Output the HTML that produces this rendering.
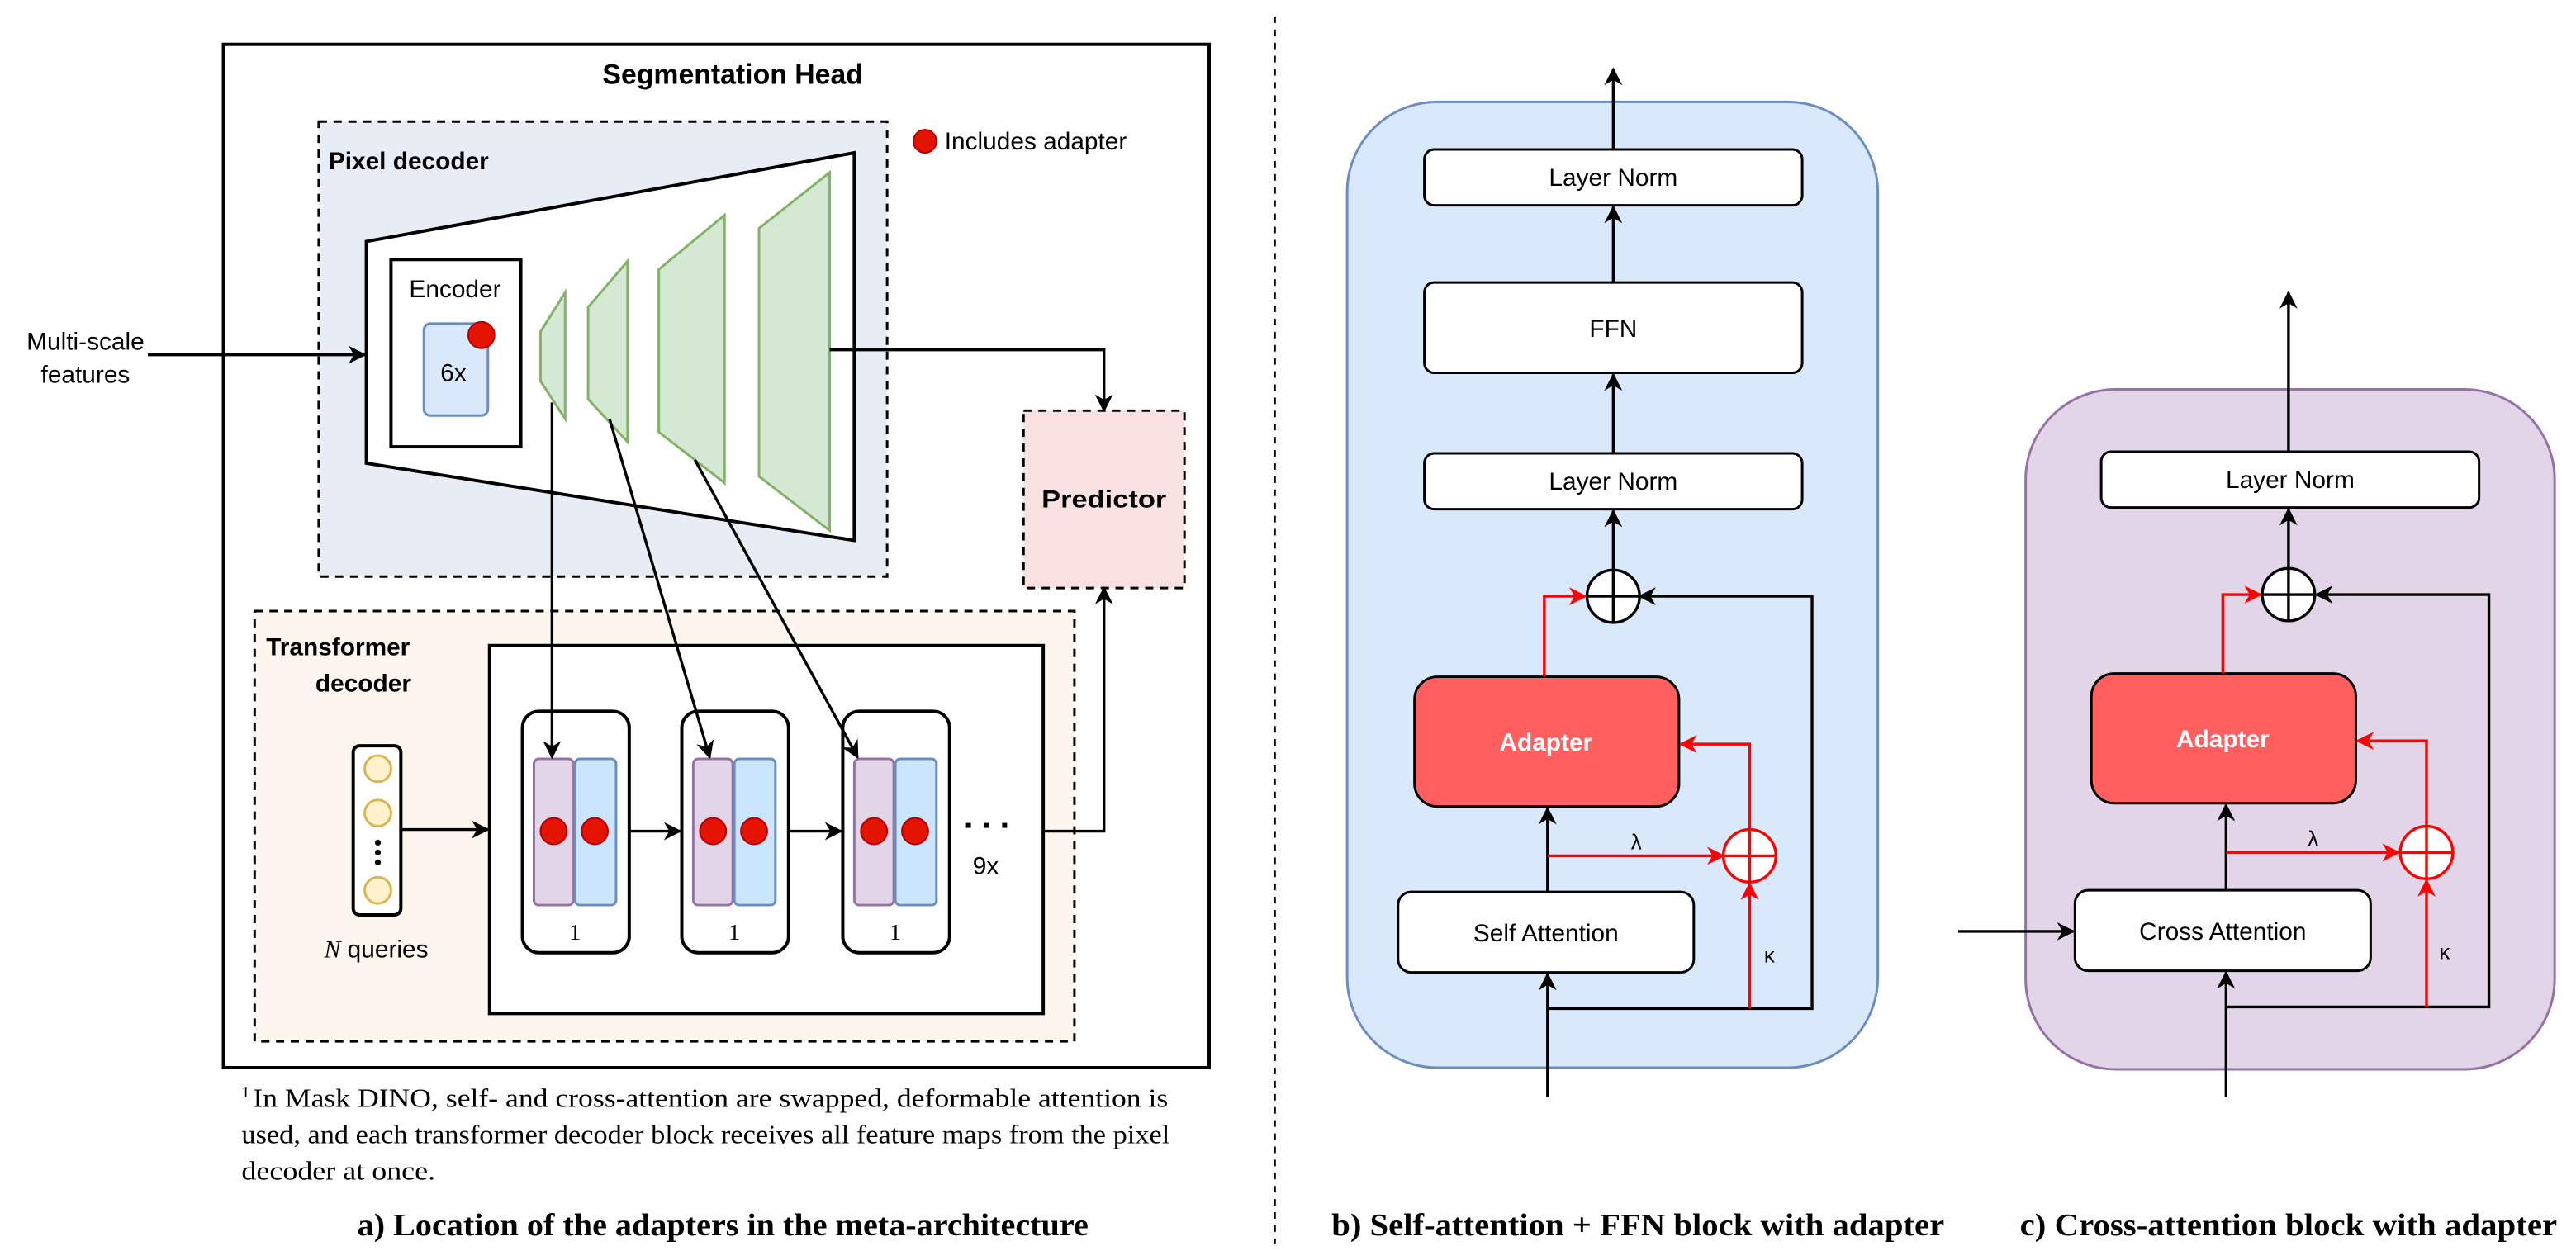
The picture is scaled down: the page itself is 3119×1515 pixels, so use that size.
<!DOCTYPE html>
<html><head><meta charset="utf-8"><style>html,body{margin:0;padding:0;background:#fff}svg{display:block}</style></head>
<body>
<svg width="3119" height="1515" viewBox="0 0 1568 761.6" preserveAspectRatio="none" xmlns="http://www.w3.org/2000/svg" font-family="Liberation Sans, sans-serif">
<defs>
<marker id="a" viewBox="0 0 10 10" refX="9" refY="5" markerWidth="11" markerHeight="11" orient="auto" markerUnits="userSpaceOnUse"><path d="M0,0L10,5L0,10L3,5z" fill="#000"/></marker>
<marker id="r" viewBox="0 0 10 10" refX="9" refY="5" markerWidth="11" markerHeight="11" orient="auto" markerUnits="userSpaceOnUse"><path d="M0,0L10,5L0,10L3,5z" fill="#f00"/></marker>
</defs>
<!-- Panel a -->
<rect x="136" y="27" width="600" height="623" fill="#fff" stroke="#000" stroke-width="2"/>
<text x="446" y="51" font-size="17" font-weight="bold" text-anchor="middle">Segmentation Head</text>
<rect x="194" y="74" width="346" height="277" fill="#e8ecf5" stroke="#000" stroke-width="1.5" stroke-dasharray="5,4"/>
<text x="200" y="103" font-size="15" font-weight="bold">Pixel decoder</text>
<circle cx="563" cy="86" r="7" fill="#e51400" stroke="#b20000"/>
<text x="575" y="91" font-size="15">Includes adapter</text>
<polygon points="223,147 520,93 520,329 223,282" fill="#fff" stroke="#000" stroke-width="2"/>
<rect x="238" y="158" width="79" height="114" fill="#fff" stroke="#000" stroke-width="2"/>
<text x="277" y="181" font-size="15" text-anchor="middle">Encoder</text>
<rect x="258" y="197" width="39" height="56" rx="4" fill="#dae8fc" stroke="#6c8ebf" stroke-width="1.5"/>
<text x="276" y="232" font-size="15" text-anchor="middle">6x</text>
<circle cx="293" cy="204" r="8" fill="#e51400" stroke="#b20000"/>
<g fill="#d5e8d4" stroke="#82b366" stroke-width="1.5">
<polygon points="329,202 344,178 344,255 329,232"/>
<polygon points="358,187 382,159 382,269 358,243"/>
<polygon points="401,164 441,131 441,294 401,263"/>
<polygon points="462,139 505,105 505,323 462,290"/>
</g>
<polyline points="505,213 672,213 672,250" fill="none" stroke="#000" stroke-width="1.7" marker-end="url(#a)"/>
<line x1="90" y1="216" x2="222" y2="216" stroke="#000" stroke-width="1.7" marker-end="url(#a)"/>
<text x="52" y="213" font-size="15" text-anchor="middle">Multi-scale</text>
<text x="52" y="233" font-size="15" text-anchor="middle">features</text>
<rect x="623" y="250" width="98" height="108" fill="#f8e1e0" stroke="#000" stroke-width="1.5" stroke-dasharray="5,4"/>
<text x="672" y="309" font-size="15" font-weight="bold" text-anchor="middle" textLength="76" lengthAdjust="spacingAndGlyphs">Predictor</text>
<rect x="155" y="372" width="499" height="262" fill="#fdf6ef" stroke="#000" stroke-width="1.5" stroke-dasharray="5,4"/>
<text x="162" y="399" font-size="15" font-weight="bold">Transformer</text>
<text x="192" y="421" font-size="15" font-weight="bold">decoder</text>
<rect x="298" y="393" width="337" height="224" fill="#fff" stroke="#000" stroke-width="2"/>
<rect x="215" y="454" width="29" height="103" rx="4" fill="#fff" stroke="#000" stroke-width="2"/>
<g fill="#fff2cc" stroke="#d6b656" stroke-width="1.5"><circle cx="230" cy="468" r="8"/><circle cx="230" cy="495" r="8"/><circle cx="230" cy="542" r="8"/></g>
<g fill="#000"><circle cx="230" cy="513" r="1.8"/><circle cx="230" cy="519" r="1.8"/><circle cx="230" cy="525" r="1.8"/></g>
<text x="229" y="583" font-size="15" text-anchor="middle"><tspan font-family="Liberation Serif, serif" font-style="italic">N</tspan> queries</text>
<line x1="244" y1="505" x2="297" y2="505" stroke="#000" stroke-width="1.7" marker-end="url(#a)"/>
<g stroke-width="1.5">
<rect x="318" y="433" width="65" height="147" rx="10" fill="#fff" stroke="#000" stroke-width="2"/>
<rect x="415" y="433" width="65" height="147" rx="10" fill="#fff" stroke="#000" stroke-width="2"/>
<rect x="513" y="433" width="65" height="147" rx="10" fill="#fff" stroke="#000" stroke-width="2"/>
<rect x="325" y="462" width="24" height="89" rx="3" fill="#e1d5e7" stroke="#9673a6"/>
<rect x="350" y="462" width="25" height="89" rx="3" fill="#cce5ff" stroke="#6c8ebf"/>
<rect x="422" y="462" width="24" height="89" rx="3" fill="#e1d5e7" stroke="#9673a6"/>
<rect x="447" y="462" width="25" height="89" rx="3" fill="#cce5ff" stroke="#6c8ebf"/>
<rect x="520" y="462" width="24" height="89" rx="3" fill="#e1d5e7" stroke="#9673a6"/>
<rect x="545" y="462" width="25" height="89" rx="3" fill="#cce5ff" stroke="#6c8ebf"/>
</g>
<g fill="#e51400" stroke="#b20000"><circle cx="337" cy="506" r="8"/><circle cx="362" cy="506" r="8"/><circle cx="434" cy="506" r="8"/><circle cx="459" cy="506" r="8"/><circle cx="532" cy="506" r="8"/><circle cx="557" cy="506" r="8"/></g>
<g font-family="Liberation Serif, serif" font-size="14" text-anchor="middle"><text x="350" y="572">1</text><text x="447" y="572">1</text><text x="545" y="572">1</text></g>
<line x1="383" y1="506" x2="414" y2="506" stroke="#000" stroke-width="1.7" marker-end="url(#a)"/>
<line x1="480" y1="506" x2="512" y2="506" stroke="#000" stroke-width="1.7" marker-end="url(#a)"/>
<g fill="#000"><rect x="588" y="501" width="3" height="3"/><rect x="599" y="501" width="3" height="3"/><rect x="610" y="501" width="3" height="3"/></g>
<text x="600" y="532" font-size="15" text-anchor="middle">9x</text>
<polyline points="635,506 672,506 672,358" fill="none" stroke="#000" stroke-width="1.7" marker-end="url(#a)"/>
<line x1="336" y1="245" x2="336" y2="461" stroke="#000" stroke-width="1.7" marker-end="url(#a)"/>
<line x1="371" y1="255" x2="432" y2="461" stroke="#000" stroke-width="1.7" marker-end="url(#a)"/>
<line x1="423" y1="280" x2="522" y2="461" stroke="#000" stroke-width="1.7" marker-end="url(#a)"/>
<g font-family="Liberation Serif, serif" font-size="16">
<text x="147" y="668" font-size="10">1</text>
<text x="154" y="674" textLength="557" lengthAdjust="spacingAndGlyphs">In Mask DINO, self- and cross-attention are swapped, deformable attention is</text>
<text x="147" y="696" textLength="565" lengthAdjust="spacingAndGlyphs">used, and each transformer decoder block receives all feature maps from the pixel</text>
<text x="147" y="718" textLength="118" lengthAdjust="spacingAndGlyphs">decoder at once.</text>
</g>
<text x="440" y="752" font-family="Liberation Serif, serif" font-size="19" font-weight="bold" text-anchor="middle" textLength="445" lengthAdjust="spacingAndGlyphs">a) Location of the adapters in the meta-architecture</text>
<line x1="776" y1="10" x2="776" y2="757" stroke="#000" stroke-width="1.2" stroke-dasharray="4,4"/>
<!-- Panel b -->
<rect x="820" y="62" width="323" height="588" rx="55" fill="#dae8fc" stroke="#6c8ebf" stroke-width="1.5"/>
<g fill="#fff" stroke="#000" stroke-width="1.5">
<rect x="867" y="91" width="230" height="34" rx="6"/>
<rect x="867" y="172" width="230" height="55" rx="6"/>
<rect x="867" y="276" width="230" height="34" rx="6"/>
<rect x="851" y="543" width="180" height="49" rx="8"/>
</g>
<rect x="861" y="412" width="161" height="79" rx="14" fill="#ff5f5f" stroke="#000" stroke-width="1.5"/>
<g font-size="15" text-anchor="middle"><text x="982" y="113">Layer Norm</text><text x="982" y="205">FFN</text><text x="982" y="298">Layer Norm</text><text x="941" y="573">Self Attention</text>
<text x="941" y="457" fill="#fff" font-weight="bold">Adapter</text></g>
<g stroke="#000" stroke-width="1.7" fill="none">
<line x1="982" y1="91" x2="982" y2="42" marker-end="url(#a)"/>
<line x1="982" y1="172" x2="982" y2="126" marker-end="url(#a)"/>
<line x1="982" y1="276" x2="982" y2="228" marker-end="url(#a)"/>
<line x1="982" y1="348" x2="982" y2="311" marker-end="url(#a)"/>
<line x1="942" y1="668" x2="942" y2="593" marker-end="url(#a)"/>
<line x1="942" y1="543" x2="942" y2="492" marker-end="url(#a)"/>
<polyline points="942,614 1103,614 1103,363 998,363" marker-end="url(#a)"/>
<circle cx="982" cy="363" r="16" fill="#fff"/><line x1="966" y1="363" x2="998" y2="363"/><line x1="982" y1="347" x2="982" y2="379"/>
</g>
<g stroke="#f00" stroke-width="1.7" fill="none">
<polyline points="940,412 940,363 965,363" marker-end="url(#r)"/>
<line x1="942" y1="521" x2="1049" y2="521" marker-end="url(#r)"/>
<line x1="1065" y1="614" x2="1065" y2="538" marker-end="url(#r)"/>
<polyline points="1065,505 1065,453 1023,453" marker-end="url(#r)"/>
<circle cx="1065" cy="521" r="16" fill="#fff"/><line x1="1049" y1="521" x2="1081" y2="521"/><line x1="1065" y1="505" x2="1065" y2="537"/>
</g>
<text x="996" y="517" font-size="13" text-anchor="middle">λ</text>
<text x="1077" y="586" font-size="13" text-anchor="middle">κ</text>
<text x="997" y="752" font-family="Liberation Serif, serif" font-size="19" font-weight="bold" text-anchor="middle" textLength="373" lengthAdjust="spacingAndGlyphs">b) Self-attention + FFN block with adapter</text>
<!-- Panel c -->
<rect x="1233" y="237" width="322" height="414" rx="55" fill="#e1d5e7" stroke="#9673a6" stroke-width="1.5"/>
<g fill="#fff" stroke="#000" stroke-width="1.5">
<rect x="1279" y="275" width="230" height="34" rx="6"/>
<rect x="1263" y="542" width="180" height="49" rx="8"/>
</g>
<rect x="1273" y="410" width="161" height="79" rx="14" fill="#ff5f5f" stroke="#000" stroke-width="1.5"/>
<g font-size="15" text-anchor="middle"><text x="1394" y="297">Layer Norm</text><text x="1353" y="572">Cross Attention</text>
<text x="1353" y="455" fill="#fff" font-weight="bold">Adapter</text></g>
<g stroke="#000" stroke-width="1.7" fill="none">
<line x1="1393" y1="275" x2="1393" y2="178" marker-end="url(#a)"/>
<line x1="1393" y1="346" x2="1393" y2="310" marker-end="url(#a)"/>
<line x1="1355" y1="668" x2="1355" y2="592" marker-end="url(#a)"/>
<line x1="1355" y1="542" x2="1355" y2="490" marker-end="url(#a)"/>
<line x1="1192" y1="567" x2="1262" y2="567" marker-end="url(#a)"/>
<polyline points="1355,613 1515,613 1515,362 1410,362" marker-end="url(#a)"/>
<circle cx="1393" cy="362" r="16" fill="#fff"/><line x1="1377" y1="362" x2="1409" y2="362"/><line x1="1393" y1="346" x2="1393" y2="378"/>
</g>
<g stroke="#f00" stroke-width="1.7" fill="none">
<polyline points="1353,410 1353,362 1376,362" marker-end="url(#r)"/>
<line x1="1355" y1="519" x2="1460" y2="519" marker-end="url(#r)"/>
<line x1="1477" y1="613" x2="1477" y2="536" marker-end="url(#r)"/>
<polyline points="1477,503 1477,451 1435,451" marker-end="url(#r)"/>
<circle cx="1477" cy="519" r="16" fill="#fff"/><line x1="1461" y1="519" x2="1493" y2="519"/><line x1="1477" y1="503" x2="1477" y2="535"/>
</g>
<text x="1408" y="515" font-size="13" text-anchor="middle">λ</text>
<text x="1488" y="584" font-size="13" text-anchor="middle">κ</text>
<text x="1393" y="752" font-family="Liberation Serif, serif" font-size="19" font-weight="bold" text-anchor="middle" textLength="327" lengthAdjust="spacingAndGlyphs">c) Cross-attention block with adapter</text>
</svg>
</body></html>
